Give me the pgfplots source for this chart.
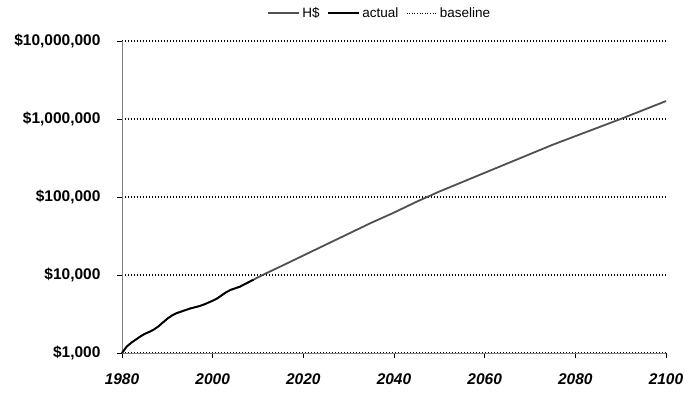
\documentclass[border=0pt]{standalone}
\usepackage{pgfplots}
\pgfplotsset{compat=1.18}
\usepackage{fontspec}
\setmainfont{Liberation Sans}
\definecolor{hgrey}{HTML}{505050}
\definecolor{axgrey}{HTML}{808080}
\begin{document}
\begin{tikzpicture}
\path[use as bounding box] (0,0) rectangle (689pt,392pt);
\begin{axis}[
  at={(122pt,39pt)}, anchor=south west,
  width=544pt, height=312pt, scale only axis,
  xmin=1980, xmax=2100,
  ymode=log, ymin=1000, ymax=10000000,
  axis x line*=bottom, axis y line*=left,
  axis line style={axgrey, line width=0.9pt, -},
  xtick={1980,2000,2020,2040,2060,2080,2100},
  xticklabels={1980,2000,2020,2040,2060,2080,2100},
  ytick={1000,10000,100000,1000000,10000000},
  yticklabels={\$1{,}000,\$10{,}000,\$100{,}000,\$1{,}000{,}000,\$10{,}000{,}000},
  minor ytick={}, log basis y=10,
  tick align=outside, major tick length=5pt,
  tick style={black, line width=0.6pt},
  ymajorgrids, grid style={black, line width=1.1pt, dash pattern=on 1.3pt off 1.7pt},
  xticklabel style={font=\fontsize{15.5}{18}\selectfont\bfseries\itshape, yshift=-12pt},
  yticklabel style={font=\fontsize{15.5}{18}\selectfont\bfseries, xshift=-13pt},
  /pgf/number format/assume math mode=true,
  legend style={at={(0.474,1.09)}, anchor=center, draw=none, fill=none,
    font=\fontsize{13.5}{16}\selectfont, legend columns=3,
    /tikz/every even column/.append style={column sep=6pt}},
  legend image code/.code={\draw[#1] (0pt,0pt) -- (31pt,0pt);},
  clip=false,
]
\addplot[black, dotted, line width=0.6pt, forget plot] coordinates {
(2010,9333)(2011,10000)(2015,12882)(2020,17783)(2025,24547)(2030,33884)(2035,46774)(2040,63096)(2045,87096)
(2050,117490)(2055,154882)(2060,204174)(2065,269153)(2070,354813)(2075,467735)(2080,602560)(2085,776247)
(2090,1000000)(2095,1303167)(2100,1698244)};
\addplot[hgrey, line width=1.8pt] coordinates {
(1980,1000)(1981,1202)(1982,1349)(1983,1479)(1984,1622)(1985,1758)(1986,1862)(1987,1995)(1988,2188)(1989,2455)
(1990,2754)(1991,3020)(1992,3236)(1993,3388)(1994,3548)(1995,3715)(1996,3846)(1997,3981)(1998,4169)(1999,4416)
(2000,4677)(2001,5012)(2002,5495)(2003,6026)(2004,6457)(2005,6761)(2006,7079)(2007,7586)(2008,8128)(2009,8710)
(2010,9333)(2011,10000)(2015,12882)(2020,17783)(2025,24547)(2030,33884)(2035,46774)(2040,63096)(2045,87096)
(2050,117490)(2055,154882)(2060,204174)(2065,269153)(2070,354813)(2075,467735)(2080,602560)(2085,776247)
(2090,1000000)(2095,1303167)(2100,1698244)};
\addlegendentry{H\$}
\addplot[black, line width=1.8pt] coordinates {
(1980,1000)(1981,1202)(1982,1349)(1983,1479)(1984,1622)(1985,1758)(1986,1862)(1987,1995)(1988,2188)(1989,2455)
(1990,2754)(1991,3020)(1992,3236)(1993,3388)(1994,3548)(1995,3715)(1996,3846)(1997,3981)(1998,4169)(1999,4416)
(2000,4677)(2001,5012)(2002,5495)(2003,6026)(2004,6457)(2005,6761)(2006,7079)(2007,7586)(2008,8128)(2009,8710)};
\addlegendentry{actual}
\addlegendimage{black, dotted, line width=0.6pt}
\addlegendentry{baseline}
\end{axis}
\end{tikzpicture}
\end{document}
